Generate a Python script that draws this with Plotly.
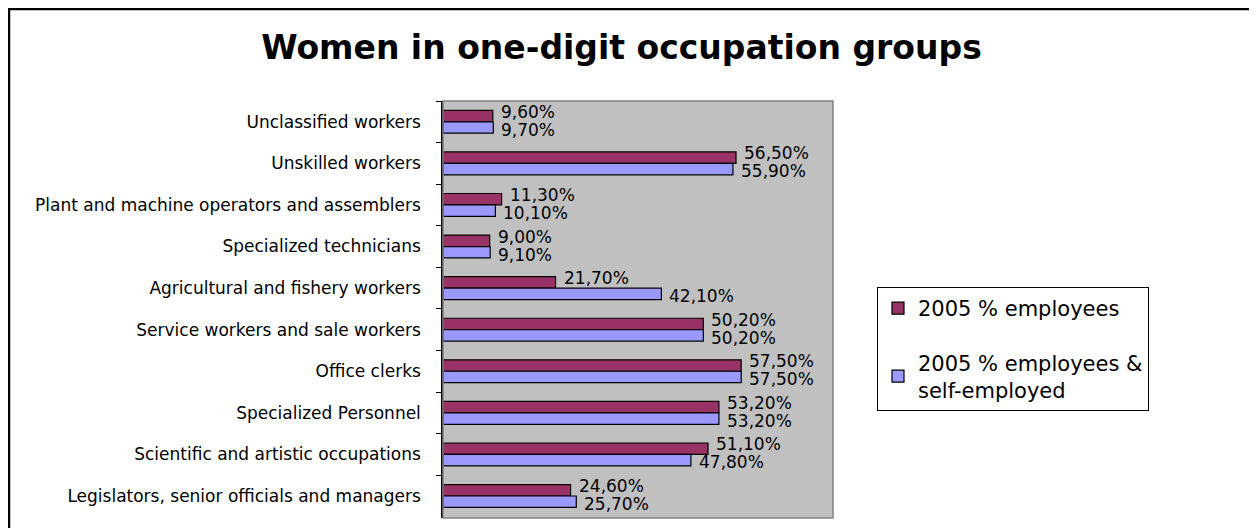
import plotly.graph_objects as go

categories = [
    "Unclassified workers",
    "Unskilled workers",
    "Plant and machine operators and assemblers",
    "Specialized technicians",
    "Agricultural and fishery workers",
    "Service workers and sale workers",
    "Office clerks",
    "Specialized Personnel",
    "Scientific and artistic occupations",
    "Legislators, senior officials and managers",
]
employees = [9.6, 56.5, 11.3, 9.0, 21.7, 50.2, 57.5, 53.2, 51.1, 24.6]
employees_self = [9.7, 55.9, 10.1, 9.1, 42.1, 50.2, 57.5, 53.2, 47.8, 25.7]
series_names = ["2005 % employees", "2005 % employees &<br>self-employed"]

W, H = 1257, 528
ML, MR, MT, MB = 435, 432, 93, 18
PW, PH = W - ML - MR, H - MT - MB
FONT = "DejaVu Sans"


def fmt(v):
    return f"{v:.2f}%".replace(".", ",")


def px_x(p):
    return (p - ML) / PW


def px_y(p):
    return (H - MB - p) / PH


fig = go.Figure()
fig.add_trace(go.Bar(
    y=categories, x=employees, orientation="h", name=series_names[0],
    marker=dict(color="#993366", line=dict(color="black", width=1.2)),
    legendgroup="a", hoverinfo="x+y",
))
fig.add_trace(go.Bar(
    y=categories, x=employees_self, orientation="h", name=series_names[1],
    marker=dict(color="#9999FF", line=dict(color="black", width=1.2)),
    legendgroup="b", hoverinfo="x+y",
))

annotations = []
for vals, ysh in ((employees, 10), (employees_self, -8)):
    for c, v in zip(categories, vals):
        annotations.append(dict(
            x=v, y=c, xref="x", yref="y", text=fmt(v), showarrow=False,
            xanchor="left", yanchor="middle", xshift=6, yshift=ysh,
            font=dict(family=FONT, size=17, color="black"),
        ))

shapes = [
    # plot area border
    dict(type="rect", xref="paper", yref="paper", x0=0, x1=1, y0=0, y1=1,
         line=dict(color="#808080", width=1.5), layer="above"),
    # outer chart frame
    dict(type="rect", xref="paper", yref="paper",
         x0=px_x(0.5), x1=px_x(W + 5), y0=px_y(H + 5), y1=px_y(0.5),
         line=dict(color="black", width=3.5)),
]

fig.update_layout(
    width=W, height=H,
    margin=dict(l=ML, r=MR, t=MT, b=MB, autoexpand=False),
    paper_bgcolor="white", plot_bgcolor="#C0C0C0",
    barmode="group", bargap=0.45, bargroupgap=0,
    title=dict(text="<b>Women in one-digit occupation groups</b>",
               x=613.5 / W, xanchor="center", y=1 - 39 / H, yanchor="middle",
               yref="container",
               font=dict(family=FONT, size=33, color="black")),
    font=dict(family=FONT, color="black"),
    xaxis=dict(range=[0, 75.2], visible=False, showgrid=False, zeroline=False,
               fixedrange=True),
    yaxis=dict(type="category", autorange="reversed", showline=True,
               linecolor="black", linewidth=1.5, ticks="outside",
               tickson="boundaries", ticklen=5, tickcolor="black",
               tickwidth=1, ticklabelstandoff=17, showgrid=False,
               tickfont=dict(family=FONT, size=17, color="black")),
    legend=dict(x=px_x(869), y=px_y(279), xanchor="left", yanchor="top",
                bgcolor="white", bordercolor="black", borderwidth=1,
                traceorder="grouped", tracegroupgap=24,
                font=dict(family=FONT, size=21, color="black")),
    annotations=annotations,
    shapes=shapes,
    showlegend=True,
)

fig.write_html("out.html")
